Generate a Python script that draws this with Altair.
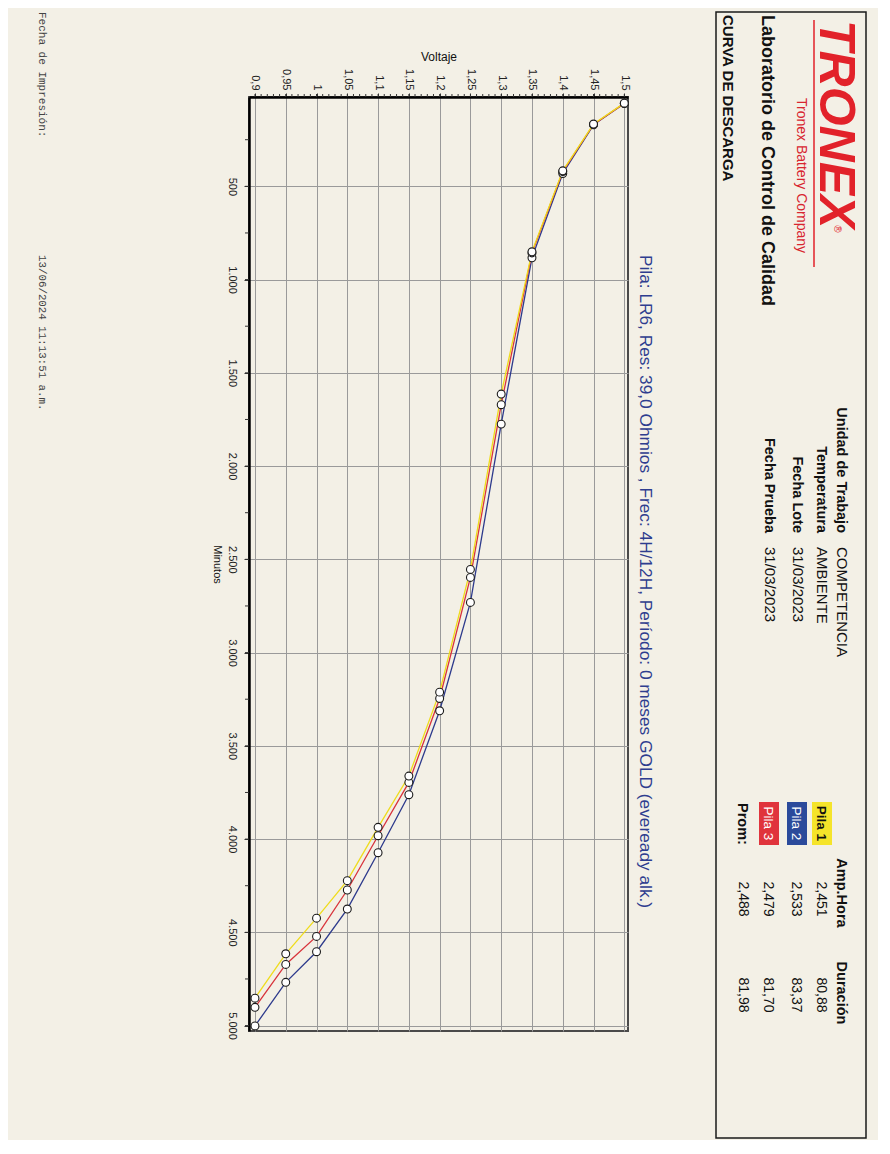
import altair as alt
import pandas as pd

# ---------------- data ----------------
voltajes = [1.5, 1.45, 1.4, 1.35, 1.3, 1.25, 1.2, 1.15, 1.1, 1.05, 1.0, 0.95, 0.9]
pila1_min = [54, 166, 417, 851, 1614, 2554, 3212, 3662, 3937, 4223, 4424, 4615, 4853]
pila3_min = [55, 168, 421, 857, 1671, 2597, 3246, 3696, 3982, 4273, 4522, 4672, 4902]
pila2_min = [56, 170, 431, 883, 1775, 2731, 3312, 3762, 4073, 4375, 4604, 4768, 5002]
series = ["Pila 2", "Pila 3", "Pila 1"]
series_vals = [pila2_min, pila3_min, pila1_min]
color_domain = ["Pila 1", "Pila 2", "Pila 3"]
color_range = ["#efdc1c", "#2d3a8c", "#d8333b"]

v_ticks = [0.9, 0.95, 1.0, 1.05, 1.1, 1.15, 1.2, 1.25, 1.3, 1.35, 1.4, 1.45, 1.5]
m_ticks = [500, 1000, 1500, 2000, 2500, 3000, 3500, 4000, 4500, 5000]
v_minor = [round(0.9 + 0.01 * i, 2) for i in range(61)]
m_minor = [250 * i for i in range(1, 21)]

logo = "TRONEX"
company = "Tronex Battery Company"
lab = "Laboratorio de Control de Calidad"
doc_title = "CURVA DE DESCARGA"
info_labels = ["Unidad de Trabajo", "Temperatura", "Fecha Lote", "Fecha Prueba"]
info_values = ["COMPETENCIA", "AMBIENTE", "31/03/2023", "31/03/2023"]
legend_cols = ["Amp.Hora", "Duración"]
row_names = ["Pila 1", "Pila 2", "Pila 3", "Prom:"]
amp_hora = ["2,451", "2,533", "2,479", "2,488"]
duracion = ["80,88", "83,37", "81,70", "81,98"]
subtitle = "Pila: LR6, Res: 39,0 Ohmios , Frec: 4H/12H, Período: 0 meses  GOLD (eveready alk.)"
footer = ["Fecha de Impresión:", "13/06/2024 11:13:51 a.m."]

rows = []
for name, vals in zip(series, series_vals):
    for v, m in zip(voltajes, vals):
        rows.append({"Pila": name, "Voltaje": v, "Minutos": m})
df = pd.DataFrame(rows)

# ---------------- layout ----------------
SANS = "Liberation Sans"
MONO = "Liberation Mono"
OX, OY = 249, 97           # page position of plot origin
W, H = 379, 934

x_scale = alt.Scale(domain=[0.8903, 1.506], nice=False, zero=False)
y_scale = alt.Scale(domain=[21, 5029], nice=False, zero=False, reverse=True)

x_axis = alt.Axis(
    orient="top", values=v_ticks,
    labelExpr="replace(format(datum.value, '.2~f'), '.', ',')",
    labelAngle=90, labelAlign="right", labelBaseline="middle",
    labelFontSize=11, labelFont=SANS, labelColor="#222", labelPadding=3,
    labelFlush=False, labelOverlap=False, labelBound=False,
    tickSize=4, tickColor="#333",
    domainColor="#000", domainWidth=2.5,
    grid=True, gridColor="#9a9a9a", gridWidth=1,
    title="Voltaje", titleAngle=0, titleX=W / 2, titleY=-37,
    titleAlign="center", titleBaseline="alphabetic",
    titleFontSize=12, titleFontWeight="normal", titleFont=SANS, titleColor="#111",
)
y_axis = alt.Axis(
    orient="left", values=m_ticks,
    labelExpr="replace(format(datum.value, ','), ',', '.')",
    labelAngle=90, labelAlign="center", labelBaseline="top",
    labelFontSize=11, labelFont=SANS, labelColor="#222", labelPadding=7,
    labelFlush=False, labelOverlap=False, labelBound=False,
    tickSize=5, tickColor="#333",
    domainColor="#000", domainWidth=2.5,
    grid=True, gridColor="#9a9a9a", gridWidth=1,
    title="Minutos", titleAngle=90, titleX=-36, titleY=H / 2,
    titleAlign="center", titleBaseline="alphabetic",
    titleFontSize=11, titleFontWeight="normal", titleFont=SANS, titleColor="#111",
)

base = alt.Chart(df).encode(
    x=alt.X("Voltaje:Q", scale=x_scale, axis=x_axis),
    y=alt.Y("Minutos:Q", scale=y_scale, axis=y_axis),
)
lines = base.mark_line(strokeWidth=1.3).encode(
    color=alt.Color("Pila:N", scale=alt.Scale(domain=color_domain, range=color_range), legend=None),
    detail="Pila:N",
)
points = base.mark_point(shape="circle", size=62, filled=False, fill="white",
                         stroke="#1a1a1a", strokeWidth=1.1, opacity=1)

vminor = alt.Chart(pd.DataFrame({"Voltaje": v_minor})).mark_rule(color="#333", strokeWidth=1).encode(
    x=alt.X("Voltaje:Q", scale=x_scale, axis=x_axis), y=alt.value(-3), y2=alt.value(0))
mminor = alt.Chart(pd.DataFrame({"Minutos": m_minor})).mark_rule(color="#333", strokeWidth=1).encode(
    y=alt.Y("Minutos:Q", scale=y_scale, axis=y_axis), x=alt.value(-4), x2=alt.value(0))


def txt(s, bx, y, size, weight="normal", color="#111", align="left",
        style="normal", font=SANS, baseline="alphabetic"):
    return alt.Chart(pd.DataFrame({"t": [s]})).mark_text(
        angle=90, align=align, baseline=baseline, fontSize=size, fontWeight=weight,
        fontStyle=style, font=font, color=color,
    ).encode(x=alt.value(bx - OX), y=alt.value(y - OY), text="t:N")


def box(x1, x2, y1, y2, **kw):
    return alt.Chart(pd.DataFrame({"a": [0]})).mark_rect(**kw).encode(
        x=alt.value(x1 - OX), x2=alt.value(x2 - OX),
        y=alt.value(y1 - OY), y2=alt.value(y2 - OY))


layers = [lines, points, vminor, mminor]

# header frame
layers.append(box(716, 866, 12, 1138, fillOpacity=0, stroke="#1a1a1a", strokeWidth=1.5))
# logo
layers.append(txt(logo, 820, 20, 50, weight="bold", style="italic", color="#e2222a"))
layers.append(txt("®", 837, 229, 10, color="#e2222a", align="center", baseline="middle"))
layers.append(alt.Chart(pd.DataFrame({"a": [0]})).mark_rule(color="#e2222a", strokeWidth=1.5).encode(
    x=alt.value(814 - OX), y=alt.value(20 - OY), y2=alt.value(267 - OY)))
layers.append(txt(company, 797, 98, 14, color="#d8252f"))
layers.append(txt(lab, 762, 15, 18, weight="bold"))
layers.append(txt(doc_title, 723, 15, 15, weight="bold"))

# info block
info_x = [837, 817, 793, 765]
for lbl, val, bx in zip(info_labels, info_values, info_x):
    layers.append(txt(lbl, bx, 533, 14.5, weight="bold", align="right"))
    layers.append(txt(val, bx, 547, 15))

# legend table
layers.append(txt(legend_cols[0], 837, 893, 14.5, weight="bold", align="center"))
layers.append(txt(legend_cols[1], 837, 993, 14.5, weight="bold", align="center"))
box_x = [(812, 832), (787, 807), (759, 779)]
box_fill = ["#f5e42a", "#2b4a9b", "#e0343c"]
box_text = ["#111", "#ffffff", "#ffffff"]
box_w = ["bold", "normal", "normal"]
for (x1, x2), f in zip(box_x, box_fill):
    layers.append(box(x1, x2, 802, 845, color=f))
row_base = [817, 792, 764, 739]
for i, name in enumerate(row_names):
    if i < 3:
        layers.append(txt(name, row_base[i], 823.5, 13.5, weight=box_w[i], color=box_text[i], align="center"))
    else:
        layers.append(txt(name, 738, 803, 14.5, weight="bold"))
    layers.append(txt(amp_hora[i], row_base[i], 899, 14, align="center"))
    layers.append(txt(duracion[i], row_base[i], 995, 14, align="center"))

# chart subtitle
layers.append(txt(subtitle, 640, 255, 17.3, color="#2e3d8f"))

# footer
layers.append(txt(footer[0], 39, 12, 11, font=MONO, color="#444"))
layers.append(txt(footer[1], 39, 255, 10.8, font=MONO, color="#444"))

chart = alt.layer(*layers).properties(
    width=W, height=H,
    autosize=alt.AutoSizeParams(type="none"),
    padding={"left": 241, "top": 89, "right": 250, "bottom": 109},
    background="#f3f0e6",
).configure_view(stroke="#4a4a4a", strokeWidth=2)

chart.save("out.html", embed_options={"renderer": "svg", "actions": False})
